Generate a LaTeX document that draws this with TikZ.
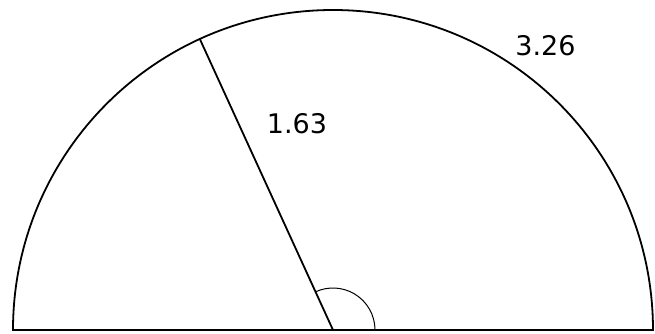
\documentclass[tikz,border=0pt]{standalone}
\usepackage{fontspec}
\setmainfont{DejaVu Sans}
\usepackage{tikz}
\usetikzlibrary{calc}

\begin{document}
\begin{tikzpicture}[
    x=1pt, y=1pt,
    font=\fontsize{27}{32}\selectfont,
    edge/.style={draw, line width=1.8pt},
    thinarc/.style={draw, line width=1pt},
    lbl/.style={inner sep=0pt, anchor=center}
]
    \useasboundingbox (-333,-3) rectangle (322,330);
    % centre and end of the radius
    \coordinate (o) at (0,0);
    \coordinate (r) at (114.59:320);
    \coordinate (a) at (-321,0);
    \coordinate (b) at (321,0);

    \draw[edge] (a) -- (b);
    \draw[edge] (320,0) arc[start angle=0, end angle=180, radius=320];
    \draw[edge] (o) -- (r);
    \draw[thinarc] (42,0) arc[start angle=0, end angle=114.59, radius=42];

    \node[lbl] (rad) at (-36,206.5) {1.63};
    \node[lbl] (len) at (212.5,284.5) {3.26};
\end{tikzpicture}
\end{document}
